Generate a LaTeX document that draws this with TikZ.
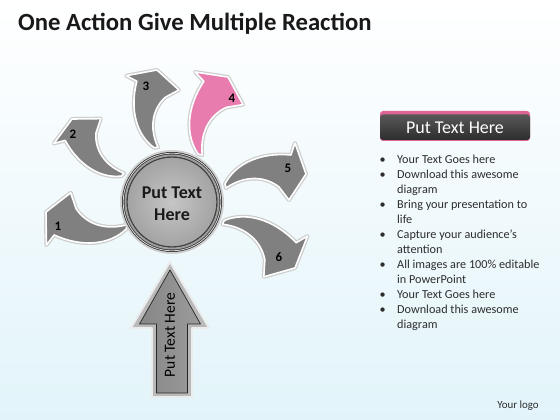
\documentclass[tikz,border=0pt]{standalone}
\usepackage{fontspec}
\setmainfont{Carlito}
\definecolor{arrowgray}{RGB}{128,128,128}
\definecolor{arrowpink}{RGB}{232,124,175}
\definecolor{barpink}{RGB}{222,100,150}
\definecolor{bgblue}{RGB}{226,244,250}
\definecolor{txtgray}{RGB}{45,45,45}
\tikzset{
  swgray/.style={fill=arrowgray, draw=white, line width=1.6pt, line join=round},
  swpink/.style={fill=arrowpink, draw=white, line width=1.6pt, line join=round},
  swshadow/.style={draw=black!20, line width=4pt, line join=round},
  numlabel/.style={font=\fontsize{13}{13}\selectfont\bfseries, text=black, inner sep=0pt},
  bigrim/.style={fill=gray!55, draw=gray!15, line width=1.8pt, line join=round},
  biginner/.style={left color=gray!95, right color=gray!78, draw=gray!30!black, line width=0.7pt, line join=round},
}
\newcommand\swooshdraw[1]{\draw[#1] (0,2) .. controls (10,22) and (35,34) .. (66,31) -- (70,43) -- (81,12) -- (64,-14) -- (54,-1) .. controls (40,10) and (20,11) .. (1,-2) -- cycle;}
\newcommand\swoosh[5]{%
  \pgfmathsetmacro\swang{atan2(#4-#2,#3-#1)-8.42}%
  \pgfmathsetmacro\swscl{veclen(#3-#1,#4-#2)/81.9}%
  \begin{scope}[shift={(#1,#2)}, rotate=\swang, scale=\swscl]
    \swooshdraw{swshadow}\swooshdraw{#5}
  \end{scope}}
\begin{document}
\begin{tikzpicture}[x=1pt,y=1pt]
\useasboundingbox (0,0) rectangle (560,420);
\shade[top color=white, bottom color=bgblue] (0,0) rectangle (560,420);
% title
\node[anchor=base west, inner sep=0pt, font=\fontsize{24.7}{26}\selectfont\bfseries, text=black!90] (title) at (18,389) {One Action Give Multiple Reaction};
% swoosh arrows
\swoosh{127}{193}{46}{208}{swgray}
\swoosh{123}{245}{72}{301}{swgray}
\swoosh{156}{272}{157}{350}{swgray}
\swoosh{200}{265}{228}{343}{swpink}
\swoosh{225}{234}{306}{246}{swgray}
\swoosh{223}{198}{295}{152}{swgray}
\node[numlabel] (n1) at (58,194) {1};
\node[numlabel] (n2) at (73,286) {2};
\node[numlabel] (n3) at (146,334) {3};
\node[numlabel] (n4) at (232,322) {4};
\node[numlabel] (n5) at (288,252) {5};
\node[numlabel] (n6) at (279,163) {6};
% hub
\coordinate (hc) at (172,218);
\fill[black!18] (hc) circle (52);
\fill[gray!40!black] (hc) circle (50);
\draw[white, opacity=0.8, line width=0.8pt] (hc) circle (48.8);
\draw[gray!75, line width=2pt] (hc) circle (46.5);
\shade[inner color=gray!45, outer color=gray!72] (hc) circle (44.8);
\draw[black!75, line width=0.9pt] (hc) circle (44.8);
\node[align=center, font=\fontsize{18}{22}\selectfont\bfseries, text=black!90] (hub) at (172,216) {Put Text\\Here};
% big up arrow
\draw[bigrim] (152,23) -- (152,92) -- (131,92) -- (170,158) -- (209,92) -- (192,92) -- (192,23) -- cycle;
\draw[biginner] (156.5,27) -- (156.5,96) -- (139.5,96) -- (170,150) -- (200.5,96) -- (187.5,96) -- (187.5,27) -- cycle;
\node[rotate=90, font=\fontsize{15.5}{16}\selectfont, text=black] (bigtext) at (170,85) {Put Text Here};
% header bar
\fill[barpink, rounded corners=3pt] (380,279) rectangle (530,309);
\shade[top color={rgb,255:red,88;green,88;blue,88}, bottom color={rgb,255:red,45;green,45;blue,45}, rounded corners=3pt] (380,280) rectangle (530,305.5);
\node[text=white, font=\fontsize{18}{18}\selectfont] (head) at (455,292.5) {Put Text Here};
% bullets
\node[anchor=north west, inner sep=0pt, text=txtgray, font=\fontsize{12.2}{15}\selectfont] (bullets) at (379.5,267.5) {%
\begin{tabular}{@{}p{17.5pt}@{}l@{}}
\textbullet & Your Text Goes here\\
\textbullet & Download this awesome\\
 & diagram\\
\textbullet & Bring your presentation to\\
 & life\\
\textbullet & Capture your audience’s\\
 & attention\\
\textbullet & All images are 100\% editable\\
 & in PowerPoint\\
\textbullet & Your Text Goes here\\
\textbullet & Download this awesome\\
 & diagram
\end{tabular}};
\node[font=\fontsize{10.9}{12}\selectfont, text=txtgray] (logo) at (518,14) {Your logo};
\end{tikzpicture}
\end{document}
